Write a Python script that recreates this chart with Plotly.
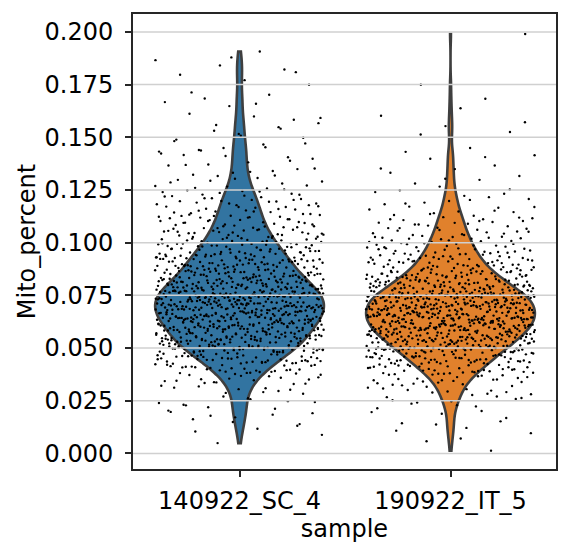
import numpy as np
import plotly.graph_objects as go

# ---------------- data ----------------
categories = ["140922_SC_4", "190922_IT_5"]

# Mito_percent of individual cells, written in units of 1e-4 (712 -> 0.0712)
mito_sc4 = [
    49, 88, 117, 162, 131, 149, 203, 184, 219, 191,
    262, 231, 248, 270, 239, 291, 318, 283, 305, 312, 296,
    338, 361, 347, 372, 329, 355, 343, 366, 334, 351,
    402, 381, 417, 394, 423, 386, 409, 398, 377, 414, 391, 405, 420, 383, 411, 397, 388,
    451, 433, 468, 442, 427, 459, 446, 472, 438, 455, 464, 429, 449, 436, 470, 444, 457, 431,
    462, 440, 453, 466, 434, 448, 460, 474,
    498, 481, 512, 489, 507, 520, 493, 477, 515, 502, 486, 523, 495, 509, 480, 517, 491, 504,
    484, 511, 499, 522, 488, 506, 478, 514, 496, 501, 518, 483, 492, 510, 487, 505, 497,
    548, 531, 562, 539, 571, 553, 527, 544, 566, 535, 558, 529, 550, 573, 541, 563, 533, 556,
    546, 569, 537, 552, 528, 560, 543, 567, 532, 555, 547, 574, 538, 561, 549, 530, 565, 542,
    557, 536, 570, 545, 554, 540,
    598, 582, 611, 590, 623, 604, 577, 616, 593, 608, 586, 620, 600, 579, 613, 595, 606, 588,
    618, 602, 583, 610, 597, 621, 591, 576, 614, 603, 587, 619, 599, 580, 609, 594, 622, 605,
    584, 612, 596, 617, 589, 607, 578, 601, 615, 592,
    649, 632, 667, 641, 656, 627, 672, 645, 660, 636, 653, 629, 664, 643, 670, 651, 634, 658,
    646, 674, 638, 662, 631, 655, 648, 669, 640, 626, 659, 644, 666, 635, 652, 673, 642, 657,
    630, 663, 647, 637, 671, 654, 628, 661, 650, 639, 668, 633, 657, 645, 665,
    699, 682, 716, 690, 708, 677, 721, 695, 711, 686, 703, 724, 692, 679, 714, 700, 688, 719,
    697, 706, 683, 712, 693, 676, 718, 702, 689, 709, 681, 723, 696, 713, 685, 704, 720, 691,
    678, 710, 698, 687, 715, 701, 684, 722, 694, 707, 680, 717, 705, 689, 712, 698, 701,
    748, 731, 765, 739, 757, 727, 771, 744, 760, 735, 753, 729, 768, 741, 756, 733, 773, 749,
    737, 762, 745, 726, 759, 742, 769, 751, 734, 764, 747, 730, 758, 740, 772, 754, 738, 766,
    746, 728, 761, 743, 770, 752, 736, 763, 750, 732, 767, 755, 744, 759, 741,
    798, 781, 815, 789, 806, 777, 822, 794, 810, 785, 802, 819, 791, 779, 813, 797, 786, 808,
    823, 792, 776, 816, 801, 788, 811, 795, 783, 820, 804, 790, 814, 799, 778, 809, 793, 824,
    787, 805, 782, 817, 796, 812, 784, 800, 818, 791, 807, 780,
    849, 832, 866, 840, 857, 828, 871, 845, 861, 836, 853, 827, 869, 843, 858, 834, 873, 851,
    838, 862, 846, 830, 865, 842, 855, 833, 870, 848, 837, 860, 844, 826, 867, 852, 839, 863,
    847, 831, 872, 854, 841, 859, 835,
    898, 882, 916, 890, 907, 878, 921, 895, 911, 886, 903, 877, 919, 893, 908, 884, 923, 900,
    888, 913, 896, 880, 917, 892, 905, 883, 922, 899, 887, 910, 894, 876, 915, 902, 889, 920, 897,
    948, 931, 966, 940, 957, 927, 971, 945, 961, 936, 953, 929, 969, 943, 958, 934, 973, 950,
    938, 963, 946, 930, 965, 942, 955, 933, 970, 947, 937, 960, 944, 926,
    998, 981, 1016, 990, 1007, 978, 1021, 995, 1011, 986, 1003, 977, 1019, 993, 1008, 984,
    1023, 1000, 988, 1013, 996, 980, 1017, 992, 1005, 983,
    1049, 1032, 1066, 1040, 1057, 1028, 1071, 1045, 1061, 1036, 1053, 1027, 1069, 1043, 1058,
    1034, 1073, 1050, 1038, 1063, 1046,
    1098, 1081, 1116, 1090, 1107, 1078, 1121, 1095, 1111, 1086, 1103, 1077, 1119, 1093, 1108,
    1084, 1123,
    1148, 1131, 1166, 1140, 1157, 1128, 1171, 1145, 1161, 1136, 1153, 1127, 1169,
    1198, 1182, 1216, 1190, 1207, 1178, 1221, 1195, 1211, 1186, 1203,
    1249, 1232, 1266, 1240, 1257, 1228, 1271, 1245,
    1298, 1281, 1316, 1290, 1307, 1322,
    1349, 1332, 1366, 1340, 1371,
    1398, 1381, 1416, 1405,
    1449, 1432, 1466, 1440,
    1498, 1516, 1482, 1548, 1531, 1567, 1599, 1612, 1583,
    1648, 1667, 1702, 1684, 1749, 1771, 1797, 1822, 1841, 1866, 1907,
    104, 139, 171, 197, 212, 179, 244, 257, 228, 302, 287, 321, 309,
    352, 331, 368, 345, 359, 337, 373,
    393, 412, 379, 404, 421, 387, 399, 416, 382, 408, 395, 419,
    447, 430, 463, 439, 456, 426, 469, 443, 452, 435, 461, 428, 450, 473, 441, 458, 437, 465,
    503, 486, 519, 494, 511, 479, 524, 490, 508, 482, 516, 497, 505, 476, 513, 488, 521, 500,
    485, 510, 493, 518, 481, 507, 496,
    552, 534, 568, 541, 559, 526, 572, 546, 563, 530, 555, 538, 570, 544, 551, 533, 565, 548,
    527, 561, 540, 557, 535, 573, 549, 532, 564, 543, 556,
    603, 586, 619, 594, 611, 578, 623, 597, 608, 583, 615, 591, 605, 576, 621, 599, 588, 613,
    581, 617, 595, 607, 585, 624, 601, 590, 612, 579, 618, 596, 606, 589,
    652, 636, 669, 643, 660, 627, 673, 648, 656, 631, 665, 640, 653, 626, 671, 646, 638, 662,
    629, 667, 644, 658, 634, 674, 650, 639, 663, 628, 668, 645, 655, 637, 670, 642, 659, 633,
    703, 686, 719, 694, 711, 678, 723, 697, 708, 682, 715, 690, 705, 676, 721, 699, 688, 713,
    681, 717, 695, 707, 684, 724, 701, 689, 712, 679, 718, 696, 706, 687, 720, 693, 710, 683, 700,
    752, 736, 769, 743, 760, 727, 773, 748, 756, 731, 765, 740, 753, 726, 771, 746, 738, 762,
    729, 767, 744, 758, 734, 774, 750, 739, 763, 728, 768, 745, 755, 737, 770, 742, 759, 733,
    803, 786, 819, 794, 811, 778, 823, 797, 808, 782, 815, 790, 805, 776, 821, 799, 788, 813,
    781, 817, 795, 807, 784, 824, 801, 789, 812, 779,
    852, 836, 869, 843, 860, 827, 873, 848, 856, 831, 865, 840, 853, 826, 871, 846, 838, 862,
    829, 867,
    903, 886, 919, 894, 911, 878, 923, 897, 908, 882, 915, 890, 905, 876, 921, 899, 888, 913,
    952, 936, 969, 943, 960, 927, 973, 948, 956, 931, 965, 940, 953, 926, 971,
    1003, 986, 1019, 994, 1011, 978, 1023, 997, 1008, 982, 1015, 990,
    1052, 1036, 1069, 1043, 1060, 1027, 1073, 1048, 1056, 1031,
    1103, 1086, 1119, 1094, 1111, 1078, 1123, 1097,
    1152, 1136, 1169, 1143, 1160, 1127, 1173, 1148, 1133,
    1203, 1186, 1219, 1194, 1211, 1178, 1223, 1197,
    1252, 1236, 1269, 1243, 1260, 1227,
    1303, 1286, 1319, 1294, 1352, 1336, 1369, 1389, 1411, 1423, 1453, 1437, 1471,
    1507, 1489, 1541, 1558, 1592, 1659, 1713, 1809, 1879,
]

mito_it5 = [
    13, 58, 96, 121, 143, 168, 188, 214, 201,
    241, 263, 229, 252, 270, 289, 312, 277, 301, 320, 294, 308, 283,
    341, 362, 328, 353, 371, 336, 347, 366, 331, 358, 344, 373, 350,
    401, 383, 418, 392, 409, 378, 422, 396, 412, 387, 404, 376, 420, 394, 407, 385, 415, 399, 380,
    411, 390,
    451, 433, 468, 442, 457, 427, 472, 446, 461, 436, 454, 429, 466, 444, 459, 431, 474, 449,
    438, 463, 447, 426, 470, 452, 440, 465, 434, 456, 443, 460,
    499, 482, 516, 490, 508, 477, 521, 494, 511, 486, 503, 478, 519, 493, 507, 484, 523, 500,
    488, 513, 496, 480, 517, 492, 505, 483, 522, 498, 487, 510, 495, 476, 515, 502, 489, 520,
    497, 506,
    548, 531, 565, 539, 556, 527, 570, 544, 560, 535, 552, 528, 568, 543, 557, 533, 573, 550,
    537, 562, 546, 529, 566, 541, 554, 532, 571, 547, 536, 559, 545, 526, 564, 551, 538, 563,
    549, 530, 572, 555, 540, 558, 534, 567, 553, 542, 561, 574,
    599, 582, 615, 590, 607, 577, 621, 595, 611, 586, 603, 578, 619, 593, 608, 584, 623, 600,
    588, 613, 596, 580, 617, 592, 605, 583, 622, 598, 587, 610, 594, 576, 616, 602, 589, 620,
    597, 581, 612, 604, 591, 618, 585, 606, 624, 579, 609, 601, 614, 587, 596, 603, 592, 608,
    599, 585,
    649, 632, 666, 640, 657, 627, 671, 645, 661, 636, 653, 628, 669, 643, 658, 634, 673, 650,
    638, 663, 646, 630, 667, 642, 655, 633, 672, 648, 637, 660, 644, 626, 665, 652, 639, 670,
    647, 631, 662, 654, 641, 668, 635, 656, 674, 629, 659, 651, 664, 637, 646, 653, 642, 658,
    649, 635, 661, 644, 655,
    699, 682, 716, 690, 707, 677, 721, 695, 711, 686, 703, 678, 719, 693, 708, 684, 723, 700,
    688, 713, 696, 680, 717, 692, 705, 683, 722, 698, 687, 710, 694, 676, 715, 702, 689, 720,
    697, 681, 712, 704, 691, 718, 685, 706, 724, 679, 709, 701, 714, 687, 696, 703, 692, 708,
    699, 685, 711, 694,
    748, 731, 765, 739, 756, 727, 770, 744, 760, 735, 752, 728, 768, 743, 757, 733, 773, 749,
    737, 762, 746, 730, 766, 741, 754, 732, 771, 747, 736, 759, 745, 726, 764, 751, 738, 769,
    750, 734, 761, 753, 740, 767, 742, 755, 774, 729, 758, 744, 763, 737, 749, 752, 741,
    798, 781, 815, 789, 806, 777, 820, 794, 810, 785, 802, 778, 818, 793, 807, 784, 823, 800,
    788, 812, 796, 780, 816, 792, 804, 783, 821, 797, 787, 809, 795, 776, 814, 801, 790, 819,
    799, 782, 811, 803, 791, 817, 786, 824,
    849, 832, 866, 840, 857, 828, 870, 845, 861, 836, 853, 827, 868, 843, 858, 834, 873, 850,
    838, 863, 846, 830, 865, 842, 855, 833, 871, 848, 837, 860, 844, 826, 864, 852, 839,
    899, 882, 916, 890, 907, 878, 921, 895, 911, 886, 903, 877, 919, 893, 908, 884, 923, 900,
    888, 913, 896, 880, 917, 892, 905, 883, 922,
    948, 931, 966, 940, 957, 927, 971, 945, 961, 936, 953, 929, 969, 943, 958, 934, 973, 950,
    938, 963, 946,
    998, 981, 1016, 990, 1007, 978, 1021, 995, 1011, 986, 1003, 977, 1019, 993, 1008, 984, 1023,
    1049, 1032, 1066, 1040, 1057, 1028, 1071, 1045, 1061, 1036, 1053, 1027, 1069,
    1098, 1081, 1116, 1090, 1107, 1078, 1121, 1095, 1111, 1086, 1103,
    1148, 1131, 1166, 1140, 1157, 1128, 1171, 1145,
    1198, 1182, 1216, 1190, 1207, 1222,
    1249, 1232, 1266, 1240,
    1298, 1281, 1316, 1349, 1332, 1366, 1398, 1415, 1449, 1431,
    1525, 1553, 1602, 1683, 1749, 1990,
    71, 108, 152, 137, 196, 223, 236, 258, 247, 267, 298, 316, 281, 305, 323, 291,
    347, 333, 369, 355, 339, 362, 326, 351, 374,
    405, 388, 421, 397, 413, 381, 424, 393, 409, 384, 417, 400, 378, 411, 391,
    455, 438, 471, 447, 463, 431, 474, 443, 459, 434, 467, 450, 428, 461, 441, 453, 426, 469,
    445, 457, 436,
    503, 486, 519, 494, 511, 479, 524, 490, 508, 482, 516, 497, 505, 476, 513, 488, 521, 500,
    485, 510, 493, 518, 481, 507, 496, 514, 489,
    552, 534, 568, 541, 559, 526, 572, 546, 563, 530, 555, 538, 570, 544, 551, 533, 565, 548,
    527, 561, 540, 557, 535, 573, 549, 532, 564, 543, 556, 529, 567, 545, 553, 537,
    603, 586, 619, 594, 611, 578, 623, 597, 608, 583, 615, 591, 605, 576, 621, 599, 588, 613,
    581, 617, 595, 607, 585, 624, 601, 590, 612, 579, 618, 596, 606, 589, 620, 593, 610, 584,
    602, 577, 614,
    652, 636, 669, 643, 660, 627, 673, 648, 656, 631, 665, 640, 653, 626, 671, 646, 638, 662,
    629, 667, 644, 658, 634, 674, 650, 639, 663, 628, 668, 645, 655, 637, 670, 642, 659, 633,
    651, 666, 641, 657, 630,
    703, 686, 719, 694, 711, 678, 723, 697, 708, 682, 715, 690, 705, 676, 721, 699, 688, 713,
    681, 717, 695, 707, 684, 724, 701, 689, 712, 679, 718, 696, 706, 687, 720, 693, 710, 683,
    700, 716, 691, 704, 680,
    752, 736, 769, 743, 760, 727, 773, 748, 756, 731, 765, 740, 753, 726, 771, 746, 738, 762,
    729, 767, 744, 758, 734, 774, 750, 739, 763, 728, 768, 745, 755, 737, 770, 742, 759, 733, 751,
    803, 786, 819, 794, 811, 778, 823, 797, 808, 782, 815, 790, 805, 776, 821, 799, 788, 813,
    781, 817, 795, 807, 784, 824, 801, 789,
    852, 836, 869, 843, 860, 827, 873, 848, 856, 831, 865, 840, 853, 826, 871, 846, 838, 862,
    903, 886, 919, 894, 911, 878, 923, 897, 908, 882, 915, 890, 905,
    952, 936, 969, 943, 960, 927, 973, 948, 956, 931,
    1003, 986, 1019, 994, 1011, 978, 1023, 997,
    1052, 1036, 1069, 1043, 1060, 1027,
    1103, 1086, 1119, 1094, 1111,
    1152, 1136, 1169,
    1203, 1186, 1252, 1303, 1352, 1406,
    1513, 1571, 1638,
]

y_tick_values = [0.0, 0.025, 0.05, 0.075, 0.1, 0.125, 0.15, 0.175, 0.2]
y_tick_labels = ["0.000", "0.025", "0.050", "0.075", "0.100", "0.125", "0.150", "0.175", "0.200"]

x_title = "sample"
y_title = "Mito_percent"

# ---------------- styling ----------------
fill_colors = ["#3274a1", "#e1812c"]
edge_color = "#3f3f3f"
bandwidths = [0.0046, 0.0040]
FONT = "DejaVu Sans"
FS = 24
AX = "#262626"

series = [np.asarray(mito_sc4, float) / 1e4, np.asarray(mito_it5, float) / 1e4]

fig = go.Figure()

for i, (vals, col, bw) in enumerate(zip(series, fill_colors, bandwidths)):
    fig.add_trace(go.Violin(
        x0=i, y=vals, orientation="v",
        points=False, spanmode="hard", scalemode="width", width=0.8,
        bandwidth=bw, fillcolor=col, opacity=1,
        line=dict(color=edge_color, width=2.6),
        box_visible=False, meanline_visible=False,
        showlegend=False, hoverinfo="skip",
    ))

# strip points: deterministic low-discrepancy jitter of +-0.4 around each category
phi = (np.sqrt(5) - 1) / 2
for i, vals in enumerate(series):
    u = (np.arange(len(vals)) * phi + 0.37 * (i + 1)) % 1.0
    fig.add_trace(go.Scatter(
        x=i + 0.8 * (u - 0.5), y=vals, mode="markers",
        marker=dict(size=2.4, color="black", line=dict(width=0)),
        showlegend=False, hoverinfo="skip",
    ))

# horizontal grid lines drawn above the marks (as in matplotlib)
for v in y_tick_values:
    fig.add_shape(type="line", xref="paper", x0=0, x1=1, yref="y", y0=v, y1=v,
                  line=dict(color="#d0d0d0", width=1.5), layer="above")

fig.update_layout(
    width=570, height=556,
    margin=dict(l=133, r=14, t=14, b=87, autoexpand=False),
    paper_bgcolor="white", plot_bgcolor="white",
    font=dict(family=FONT, size=FS, color="black"),
    violinmode="overlay", showlegend=False,
)
fig.update_xaxes(
    type="linear", range=[-0.505, 1.5],
    tickvals=[0, 1], ticktext=categories,
    showgrid=False, zeroline=False,
    showline=True, mirror=True, linecolor=AX, linewidth=1.8,
    ticks="outside", ticklen=6, tickwidth=1.5, tickcolor=AX,
    ticklabelstandoff=3,
    title=dict(text=x_title, standoff=4, font=dict(size=FS)),
)
fig.update_yaxes(
    range=[-0.0074, 0.2085],
    tickvals=y_tick_values, ticktext=y_tick_labels,
    showgrid=False, zeroline=False,
    showline=True, mirror=True, linecolor=AX, linewidth=1.8,
    ticks="outside", ticklen=6, tickwidth=1.5, tickcolor=AX,
    ticklabelstandoff=7,
    title=dict(text=y_title, standoff=2, font=dict(size=FS)),
)

fig.write_html("out.html")
